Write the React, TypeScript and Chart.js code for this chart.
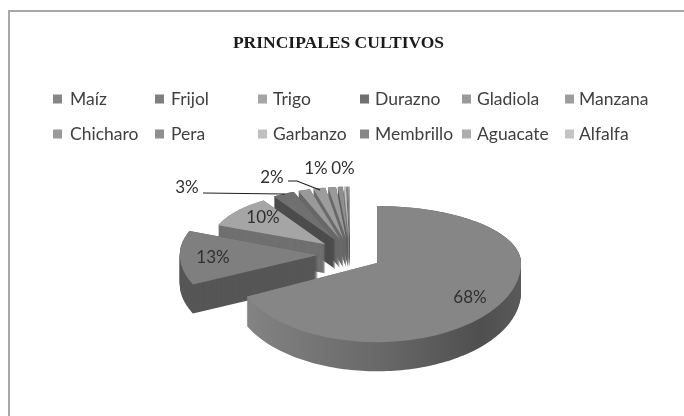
import React, { useEffect, useRef } from "react";
import { Chart, registerables } from "chart.js";

Chart.register(...registerables);

const categories = ["Maíz", "Frijol", "Trigo", "Durazno", "Gladiola", "Manzana", "Chicharo", "Pera", "Garbanzo", "Membrillo", "Aguacate", "Alfalfa"];
const shares = [68, 13, 10, 3.1, 1.7, 1.7, 1.1, 0.7, 0.3, 0.2, 0.1, 0.1];
const sliceColors = ["#868686", "#7f7f7f", "#a5a5a5", "#707070", "#999999", "#9d9d9d", "#9a9a9a", "#8f8f8f", "#c0c0c0", "#858585", "#adadad", "#c4c4c4"];
const titleText = "PRINCIPALES CULTIVOS";

// Layout of the tilted pie, in pixels
const CX = 350, CY = 254.5, EXPLODE = 32, R = 144, DEPTH = 29;
const SWATCH_X = [53, 155, 258, 360, 462, 565];
const LEGEND_TEXT_X = [70, 171, 273, 375, 477, 579];
const LEGEND_Y = [99, 134];
const LABEL_AT: Record<number, [number, number]> = {
  0: [470, 298], 1: [213, 258], 2: [263, 218], 3: [187, 188], 5: [272, 178], 6: [316, 169], 10: [343, 169],
};
const LEADERS = [
  [[203, 193], [285, 194]],
  [[288, 181], [297, 181], [320, 190]],
];

// The far slices look smaller: perspective of the original drawing
const radiusFor = (i: number) => (i === 0 ? R : i === 1 ? R * 0.96 : R * 0.8);
const tilt = (i: number): [number, number] => (i === 0 ? [0.396, 0.55] : i === 1 ? [0.47, 0.5] : [0.45, 0.45]);

function darker(hex: string, f: number) {
  const v = Math.round(parseInt(hex.slice(1, 3), 16) * f);
  return `rgb(${v},${v},${v})`;
}

const tiltPlugin = {
  id: "tilt",
  beforeDraw(chart: any) {
    const ctx = chart.ctx;
    ctx.save();
    ctx.fillStyle = "#ffffff";
    ctx.fillRect(0, 0, chart.width, chart.height);
    ctx.fillStyle = "#a8a8a8";
    ctx.fillRect(8, 10, 2, 406);
    ctx.fillRect(8, 10, 676, 2);
    ctx.restore();
    ctx.save();
    ctx.font = "17.5px Lato, sans-serif";
    ctx.textBaseline = "middle";
    categories.forEach((name, i) => {
      const col = i % 6, row = Math.floor(i / 6);
      ctx.fillStyle = sliceColors[i];
      ctx.fillRect(SWATCH_X[col], LEGEND_Y[row] - 4.5, 9, 9);
      ctx.fillStyle = "#404040";
      ctx.fillText(name, LEGEND_TEXT_X[col], LEGEND_Y[row]);
    });
    ctx.restore();
  },
  beforeDatasetsDraw(chart: any) {
    const ctx = chart.ctx;
    const arcs = chart.getDatasetMeta(0).data;
    arcs.forEach((arc: any, i: number) => {
      const mid = (arc.startAngle + arc.endAngle) / 2;
      arc.x = CX + Math.cos(mid) * EXPLODE;
      arc.y = CY + Math.sin(mid) * EXPLODE * 0.5;
      arc.outerRadius = radiusFor(i);
      arc.innerRadius = 0;
      if (!Object.prototype.hasOwnProperty.call(arc, "draw")) {
        const base = Object.getPrototypeOf(arc).draw;
        arc.draw = function (c: any) {
          const [up, down] = tilt(i);
          for (const [k, top, h] of [[up, 0, this.y], [down, this.y, 416 - this.y]] as number[][]) {
            c.save();
            c.beginPath();
            c.rect(0, top, 684, h);
            c.clip();
            c.translate(0, this.y);
            c.scale(1, k);
            c.translate(0, -this.y);
            base.call(this, c);
            c.restore();
          }
        };
      }
    });
    for (let i = arcs.length - 1; i >= 0; i--) {
      const arc = arcs[i];
      const [up, down] = tilt(i);
      const rad = arc.outerRadius;
      const pts: [number, number][] = [[arc.x, arc.y]];
      const steps = Math.max(2, Math.ceil((arc.endAngle - arc.startAngle) * 40));
      for (let s = 0; s <= steps; s++) {
        const a = arc.startAngle + ((arc.endAngle - arc.startAngle) * s) / steps;
        const sn = Math.sin(a);
        pts.push([arc.x + rad * Math.cos(a), arc.y + rad * sn * (sn < 0 ? up : down)]);
      }
      let fill: any = darker(sliceColors[i], 0.68);
      if (i === 0) {
        const g = ctx.createLinearGradient(250, 0, 522, 0);
        g.addColorStop(0, "#828282");
        g.addColorStop(0.5, "#676767");
        g.addColorStop(0.85, "#4f4f4f");
        g.addColorStop(1, "#5a5a5a");
        fill = g;
      }
      ctx.fillStyle = fill;
      for (let d = DEPTH; d >= 0; d--) {
        ctx.beginPath();
        pts.forEach(([x, y], n) => (n ? ctx.lineTo(x, y + d) : ctx.moveTo(x, y + d)));
        ctx.closePath();
        ctx.fill();
      }
    }
  },
  afterDatasetsDraw(chart: any) {
    const ctx = chart.ctx;
    ctx.save();
    ctx.strokeStyle = "#202020";
    ctx.lineWidth = 1.2;
    LEADERS.forEach((line) => {
      ctx.beginPath();
      line.forEach(([x, y], n) => (n ? ctx.lineTo(x, y) : ctx.moveTo(x, y)));
      ctx.stroke();
    });
    ctx.font = "17px Lato, sans-serif";
    ctx.fillStyle = "#303030";
    ctx.textAlign = "center";
    ctx.textBaseline = "middle";
    Object.entries(LABEL_AT).forEach(([k, [x, y]]) => {
      ctx.fillText(`${Math.round(shares[+k])}%`, x, y);
    });
    ctx.restore();
  },
};

export default function App() {
  const ref = useRef<HTMLCanvasElement>(null);
  useEffect(() => {
    document.body.style.margin = "0";
    const chart = new Chart(ref.current!, {
      type: "pie",
      data: {
        labels: categories,
        datasets: [{ data: shares, backgroundColor: sliceColors, borderWidth: 0, clip: false } as any],
      },
      options: {
        responsive: false,
        animation: false,
        radius: R,
        layout: { padding: { right: 7 } },
        plugins: {
          legend: { display: false },
          tooltip: { enabled: false },
          title: {
            display: true,
            text: titleText,
            color: "#1a1a1a",
            font: { family: "'Liberation Serif', serif", size: 17.5, weight: "bold" },
            padding: { top: 33, bottom: 0 },
          },
        },
      } as any,
      plugins: [tiltPlugin],
    });
    return () => chart.destroy();
  }, []);
  return <canvas ref={ref} width={684} height={416} style={{ display: "block" }} />;
}
